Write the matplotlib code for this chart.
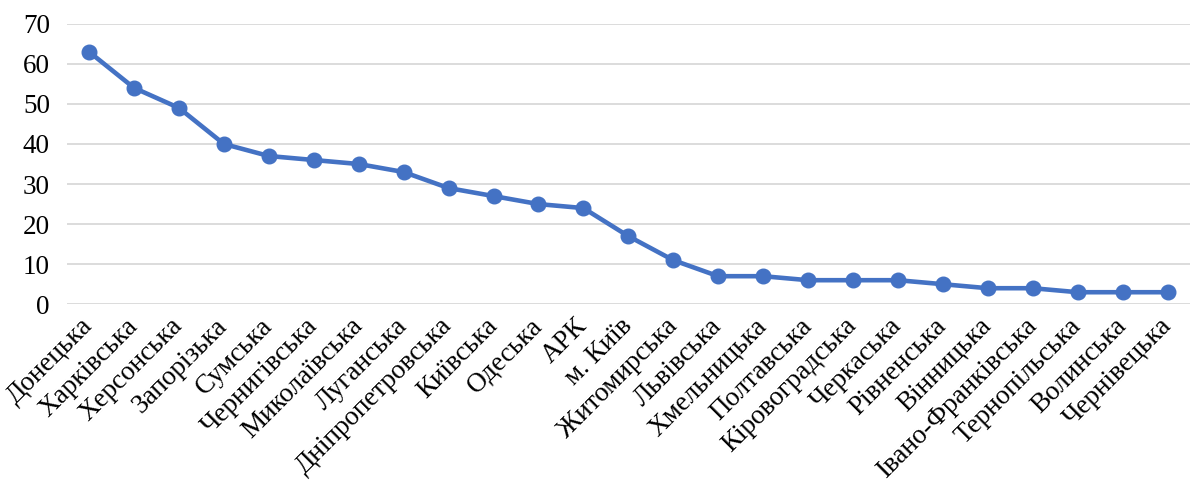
import matplotlib.pyplot as plt

plt.rcParams['font.family'] = ['Liberation Serif', 'DejaVu Serif']

regions = ["Донецька", "Харківська", "Херсонська", "Запорізька", "Сумська",
           "Чернигівська", "Миколаївська", "Луганська", "Дніпропетровська",
           "Київська", "Одеська", "АРК", "м. Київ", "Житомирська", "Львівська",
           "Хмельницька", "Полтавська", "Кіровоградська", "Черкаська",
           "Рівненська", "Вінницька", "Івано-Франківська", "Тернопільська",
           "Волинська", "Чернівецька"]
counts = [63, 54, 49, 40, 37, 36, 35, 33, 29, 27, 25, 24, 17, 11, 7, 7, 6, 6, 6,
          5, 4, 4, 3, 3, 3]

fig = plt.figure(figsize=(11.9, 4.86), dpi=100)
ax = fig.add_axes([0.056, 0.374, 0.944, 0.577])

x = range(len(regions))
ax.plot(x, counts, color='#4472C4', linewidth=3.3, marker='o', markersize=10.5,
        solid_capstyle='round', solid_joinstyle='round', zorder=3)

ax.set_xlim(-0.5, len(regions) - 0.5)
ax.set_ylim(0, 70)
ax.set_yticks(range(0, 71, 10))
ax.yaxis.grid(True, color='#d9d9d9', linewidth=1.3)
ax.set_axisbelow(True)
for s in ax.spines.values():
    s.set_visible(False)
ax.tick_params(axis='both', length=0, labelsize=19.5, colors='black')
ax.tick_params(axis='y', pad=12)
ax.set_xticks(list(x))
ax.set_xticklabels(regions, rotation=45, ha='right', va='center',
                   rotation_mode='anchor')
ax.tick_params(axis='x', pad=13)

fig.savefig('out.png', dpi=100, facecolor='white')
